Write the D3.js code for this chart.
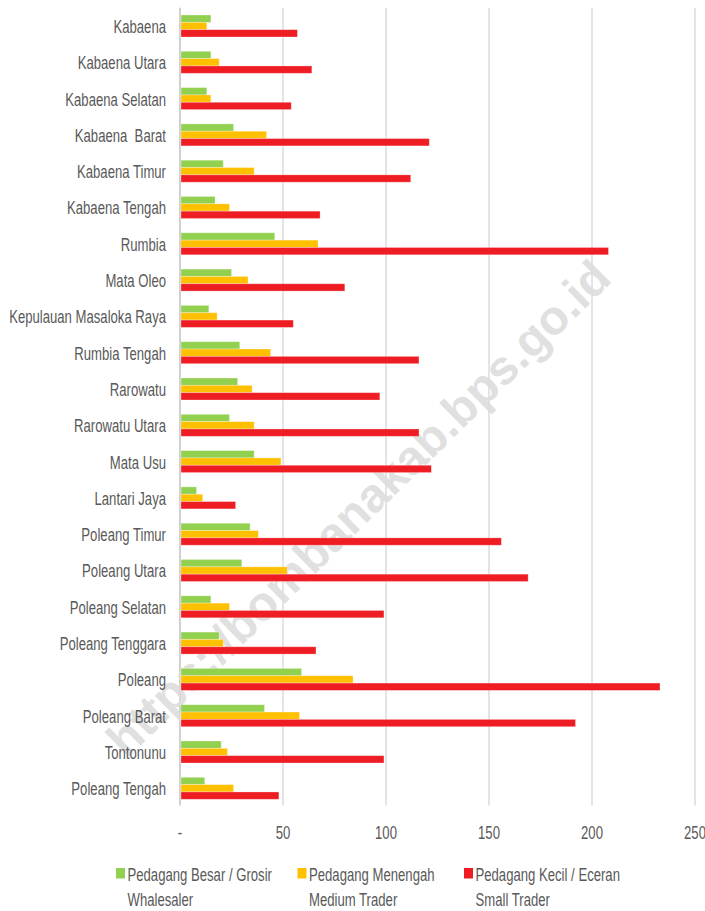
<!DOCTYPE html>
<html>
<head>
<meta charset="utf-8">
<script src="https://cdn.jsdelivr.net/npm/d3@7"></script>
<style>
  html, body { margin: 0; padding: 0; background: #ffffff; }
  svg text { white-space: pre; }
</style>
</head>
<body>
<svg id="chart" width="705" height="911"></svg>
<script>
// Kecamatan (districts) in Kabupaten Bombana
const categories = [
  "Kabaena", "Kabaena Utara", "Kabaena Selatan", "Kabaena  Barat", "Kabaena Timur",
  "Kabaena Tengah", "Rumbia", "Mata Oleo", "Kepulauan Masaloka Raya", "Rumbia Tengah",
  "Rarowatu", "Rarowatu Utara", "Mata Usu", "Lantari Jaya", "Poleang Timur",
  "Poleang Utara", "Poleang Selatan", "Poleang Tenggara", "Poleang", "Poleang Barat",
  "Tontonunu", "Poleang Tengah"
];

// Number of traders by type
const wholesalers = [15, 15, 13, 26, 21, 17, 46, 25, 14, 29, 28, 24, 36, 8, 34, 30, 15, 19, 59, 41, 20, 12];
const mediumTraders = [13, 19, 15, 42, 36, 24, 67, 33, 18, 44, 35, 36, 49, 11, 38, 52, 24, 21, 84, 58, 23, 26];
const smallTraders = [57, 64, 54, 121, 112, 68, 208, 80, 55, 116, 97, 116, 122, 27, 156, 169, 99, 66, 233, 192, 99, 48];

const seriesKeys = ["besar", "menengah", "kecil"];
const seriesLabels = [
  ["Pedagang Besar / Grosir", "Whalesaler"],
  ["Pedagang Menengah", "Medium Trader"],
  ["Pedagang Kecil / Eceran", "Small Trader"]
];
const seriesColors = ["#92d050", "#ffc000", "#ee1d24"];
const xTicks = [0, 50, 100, 150, 200, 250];
const watermarkText = "https://bombanakab.bps.go.id";

const seriesValues = [wholesalers, mediumTraders, smallTraders];
const rows = categories.map((c, i) => ({
  name: c,
  values: seriesKeys.map((k, j) => ({ key: k, value: seriesValues[j][i], color: seriesColors[j] }))
}));

const svg = d3.select("#chart");
const FONT = "'Liberation Sans', Arial, sans-serif";
const FS = 18.5;      // font size of the condensed labels
const SX = 0.71;      // horizontal squeeze giving the narrow face
const TEXT = "#595959";

const x = d3.scaleLinear().domain([0, 250]).range([180, 695]);
const y = d3.scaleBand().domain(categories).range([7.85, 806.45])
  .paddingInner(0.394).paddingOuter(0.197);
const ySub = d3.scaleBand().domain(seriesKeys).range([0, y.bandwidth()]);

// condensed text helper
function label(g, tx, ty, str, anchor) {
  return g.append("text")
    .attr("transform", `translate(${tx},${ty}) scale(${SX},1)`)
    .attr("text-anchor", anchor)
    .attr("font-family", FONT)
    .attr("font-size", FS)
    .attr("fill", TEXT)
    .text(str);
}

// gridlines
const grid = svg.append("g");
grid.selectAll("line").data(xTicks).join("line")
  .attr("x1", d => x(d)).attr("x2", d => x(d))
  .attr("y1", y.range()[0]).attr("y2", y.range()[1] - 1)
  .attr("stroke", d => d === 0 ? "#d0d0d0" : "#dedede")
  .attr("stroke-width", d => d === 0 ? 2 : 1.6);

// watermark sits under the bars
svg.append("text")
  .attr("transform", "translate(370,520) rotate(-44.5)")
  .attr("text-anchor", "middle")
  .attr("font-family", FONT)
  .attr("font-weight", "bold")
  .attr("font-size", 48)
  .attr("fill", "#dcdcdc")
  .attr("fill-opacity", 0.9)
  .text(watermarkText);

// bars
const groups = svg.append("g").selectAll("g").data(rows).join("g")
  .attr("transform", d => `translate(0,${y(d.name)})`);
groups.selectAll("rect").data(d => d.values).join("rect")
  .attr("x", x(0) + 1)
  .attr("y", d => ySub(d.key))
  .attr("width", d => x(d.value) - x(0) - 1)
  .attr("height", ySub.bandwidth())
  .attr("fill", d => d.color)
  .attr("stroke", "#ffffff")
  .attr("stroke-opacity", 0.35)
  .attr("stroke-width", 0.8);

// category labels
const yAxis = svg.append("g");
categories.forEach(c => {
  label(yAxis, 166, y(c) + y.bandwidth() / 2 + 6.9, c, "end");
});

// x tick labels
const xAxis = svg.append("g");
xTicks.forEach(t => {
  label(xAxis, x(t), 839, t === 0 ? "-" : String(t), "middle");
});

// legend
const legend = svg.append("g");
const legendX = [116, 297.5, 464];
seriesLabels.forEach((lines, i) => {
  const lx = legendX[i];
  legend.append("rect")
    .attr("x", lx).attr("y", 868)
    .attr("width", 9).attr("height", 10.5)
    .attr("fill", seriesColors[i]);
  lines.forEach((ln, k) => {
    label(legend, lx + 11.5, 881 + k * 24.5, ln, "start");
  });
});
</script>
</body>
</html>
